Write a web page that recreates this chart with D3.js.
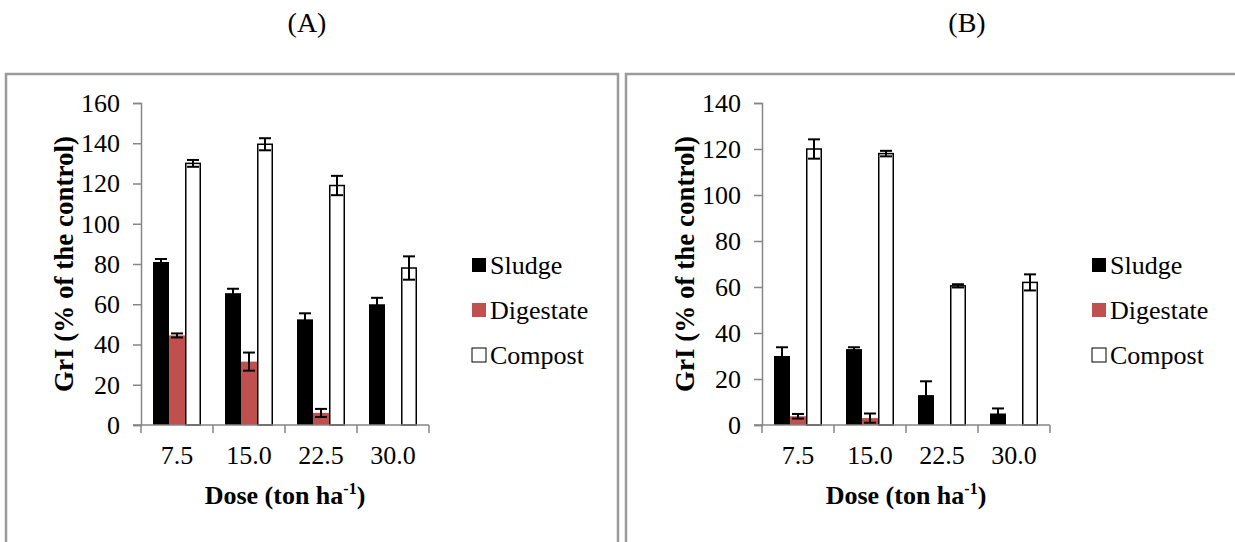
<!DOCTYPE html>
<html>
<head>
<meta charset="utf-8">
<script src="https://cdn.jsdelivr.net/npm/d3@7"></script>
<style>
  html, body { margin: 0; padding: 0; background: #fff; }
  svg { display: block; }
</style>
</head>
<body>
<svg id="chart" width="1235" height="542"></svg>
<script>
// ---- data ----
const categories = ["7.5", "15.0", "22.5", "30.0"];
const seriesNames = ["Sludge", "Digestate", "Compost"];
const seriesColors = ["#000000", "#C0504D", "#FFFFFF"];

const sludgeA = [81, 65.5, 52.5, 60];
const sludgeAErr = [1.5, 2.2, 3, 3.2];
const digestateA = [44.5, 31.5, 6, 0];
const digestateAErr = [1, 4.5, 2, 0];
const compostA = [130, 139.5, 119, 78];
const compostAErr = [1.7, 3, 4.8, 5.8];

const sludgeB = [30, 33, 13, 5];
const sludgeBErr = [3.8, 0.8, 6, 2.2];
const digestateB = [3.8, 3, 0, 0];
const digestateBErr = [1, 2, 0, 0];
const compostB = [120, 118, 60.5, 62];
const compostBErr = [4.2, 1.2, 0.7, 3.5];

const yTicksA = [0, 20, 40, 60, 80, 100, 120, 140, 160];
const yTicksB = [0, 20, 40, 60, 80, 100, 120, 140];

const panelTitles = ["(A)", "(B)"];
const xTitle = "Dose (ton ha";
const yTitle = "GrI (% of the control)";

// ---- drawing ----
const FONT = "'Liberation Serif', 'Times New Roman', 'DejaVu Serif', serif";
const svg = d3.select("#chart");
const axisColor = "#868686";

// frames
svg.append("path")
  .attr("d", "M6,545 L6,74 L618,74 L618,545")
  .attr("fill", "none").attr("stroke", "#9a9a9a").attr("stroke-width", 2.5);
svg.append("path")
  .attr("d", "M626,545 L626,74 L1240,74")
  .attr("fill", "none").attr("stroke", "#9a9a9a").attr("stroke-width", 2.5);

function txt(sel, size, bold) {
  return sel.style("font-family", FONT).style("font-size", size + "px")
    .style("font-weight", bold ? "bold" : "normal").attr("fill", "#000");
}

function drawPanel(cfg) {
  const g = svg.append("g");
  const x = d3.scaleBand().domain(categories).range([cfg.x0, cfg.x1]).padding(0);
  const xi = d3.scaleBand().domain(seriesNames).range([0, x.bandwidth()])
    .paddingInner(0).paddingOuter(0.75);
  const y = d3.scaleLinear().domain([0, d3.max(cfg.ticks)]).range([425, 103]);

  // panel title
  txt(g.append("text").attr("x", cfg.titleX).attr("y", 32)
    .attr("text-anchor", "middle"), 28).text(cfg.title);

  // bars
  const series = [cfg.sludge, cfg.digestate, cfg.compost];
  const errs = [cfg.sludgeErr, cfg.digestateErr, cfg.compostErr];
  seriesNames.forEach((s, si) => {
    const data = categories.map((c, ci) => ({ c, v: series[si][ci], e: errs[si][ci] }));
    g.selectAll(null).data(data.filter(d => d.v > 0)).enter().append("rect")
      .attr("x", d => x(d.c) + xi(s) + (si === 2 ? 0.75 : 0))
      .attr("y", d => y(d.v))
      .attr("width", xi.bandwidth() - (si === 2 ? 1.5 : 0))
      .attr("height", d => y(0) - y(d.v))
      .attr("fill", seriesColors[si])
      .attr("stroke", si === 2 ? "#000" : "none")
      .attr("stroke-width", si === 2 ? 1.5 : 0);
  });

  // axes
  const yAxis = d3.axisLeft(y).tickValues(cfg.ticks).tickSize(8).tickPadding(13).tickFormat(d3.format("d"));
  const ya = g.append("g").attr("transform", `translate(${cfg.x0},0)`).call(yAxis);
  ya.select(".domain").attr("stroke", axisColor).attr("stroke-width", 1.5);
  ya.selectAll(".tick line").attr("stroke", axisColor).attr("stroke-width", 1.5);
  txt(ya.selectAll(".tick text"), 26);

  const xa = g.append("g").attr("transform", `translate(0,${y(0)})`);
  xa.append("line").attr("x1", cfg.x0 - 8).attr("x2", cfg.x1)
    .attr("stroke", axisColor).attr("stroke-width", 1.5);
  const bounds = categories.map(c => x(c)).concat([cfg.x1]);
  xa.selectAll(null).data(bounds).enter().append("line")
    .attr("x1", d => d).attr("x2", d => d).attr("y1", 0).attr("y2", 8)
    .attr("stroke", axisColor).attr("stroke-width", 1.5);
  txt(xa.selectAll(null).data(categories).enter().append("text")
    .attr("x", c => x(c) + x.bandwidth() / 2).attr("y", 39)
    .attr("text-anchor", "middle"), 26).text(c => c);

  // error bars
  seriesNames.forEach((s, si) => {
    const data = categories.map((c, ci) => ({ c, v: series[si][ci], e: errs[si][ci] }))
      .filter(d => d.v > 0 && d.e > 0);
    const cx = d => x(d.c) + xi(s) + xi.bandwidth() / 2;
    const eg = g.append("g").attr("stroke", "#000").attr("stroke-width", 2);
    eg.selectAll(null).data(data).enter().append("line")
      .attr("x1", cx).attr("x2", cx)
      .attr("y1", d => y(d.v + d.e)).attr("y2", d => y(Math.max(0, d.v - d.e)));
    eg.selectAll(null).data(data).enter().append("line")
      .attr("x1", d => cx(d) - 6).attr("x2", d => cx(d) + 6)
      .attr("y1", d => y(d.v + d.e)).attr("y2", d => y(d.v + d.e));
    eg.selectAll(null).data(data).enter().append("line")
      .attr("x1", d => cx(d) - 6).attr("x2", d => cx(d) + 6)
      .attr("y1", d => y(Math.max(0, d.v - d.e))).attr("y2", d => y(Math.max(0, d.v - d.e)));
  });

  // axis titles
  const xt = txt(g.append("text").attr("x", (cfg.x0 + cfg.x1) / 2).attr("y", 504)
    .attr("text-anchor", "middle"), 26, true);
  xt.append("tspan").text(xTitle);
  xt.append("tspan").attr("dy", -10).style("font-size", "16px").text("-1");
  xt.append("tspan").attr("dy", 10).text(")");

  txt(g.append("text")
    .attr("transform", `translate(${cfg.x0 - 68},${(y(0) + y(d3.max(cfg.ticks))) / 2}) rotate(-90)`)
    .attr("text-anchor", "middle"), 27, true)
    .text(yTitle);

  // legend
  const lg = g.append("g");
  seriesNames.forEach((s, si) => {
    const by = 274 + si * 45;
    lg.append("rect").attr("x", cfg.legendX).attr("y", by - 16).attr("width", 14).attr("height", 14)
      .attr("fill", seriesColors[si])
      .attr("stroke", si === 2 ? "#000" : "none").attr("stroke-width", 1);
    txt(lg.append("text").attr("x", cfg.legendX + 18).attr("y", by), 26).text(s);
  });
}

drawPanel({
  title: panelTitles[0], titleX: 307, x0: 141, x1: 429, legendX: 472, ticks: yTicksA,
  sludge: sludgeA, sludgeErr: sludgeAErr, digestate: digestateA, digestateErr: digestateAErr,
  compost: compostA, compostErr: compostAErr
});
drawPanel({
  title: panelTitles[1], titleX: 967, x0: 762, x1: 1050, legendX: 1092, ticks: yTicksB,
  sludge: sludgeB, sludgeErr: sludgeBErr, digestate: digestateB, digestateErr: digestateBErr,
  compost: compostB, compostErr: compostBErr
});
</script>
</body>
</html>
